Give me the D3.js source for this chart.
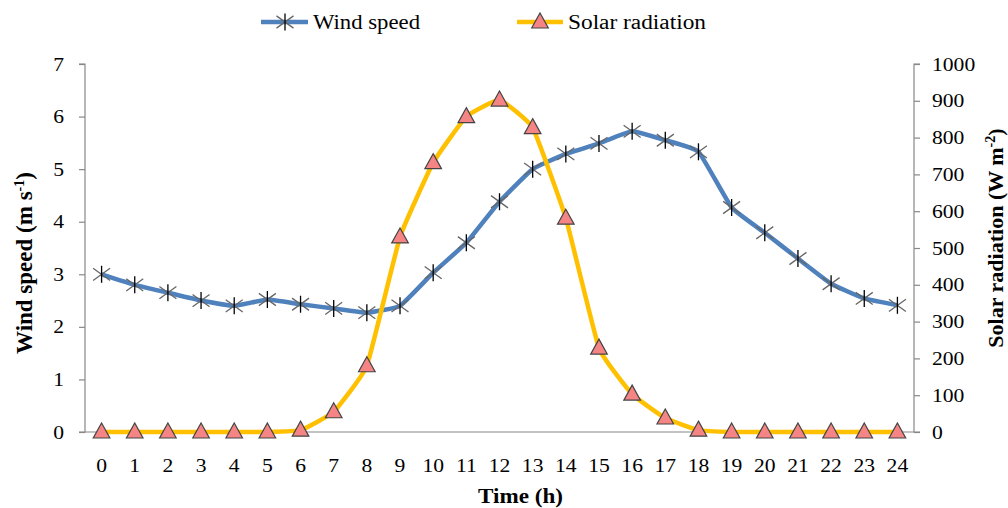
<!DOCTYPE html>
<html><head><meta charset="utf-8">
<script src="https://cdn.jsdelivr.net/npm/d3@7"></script>
<style>body{margin:0;background:#fff}svg text{font-family:"Liberation Serif","Times New Roman",serif;fill:#000}</style>
</head><body><svg id="c" width="1008" height="508"></svg>
<script>
const hours = [0,1,2,3,4,5,6,7,8,9,10,11,12,13,14,15,16,17,18,19,20,21,22,23,24];
const windSpeed = [3.0,2.8,2.65,2.5,2.4,2.52,2.43,2.35,2.27,2.4,3.03,3.6,4.38,5.0,5.29,5.49,5.72,5.55,5.33,4.27,3.79,3.3,2.82,2.54,2.41];
const solarRad = [0,0,0,0,0,0,5,55,180,530,732,857,902,827,581,228,103,38,5,0,0,0,0,0,0];
const leftTicks = [0,1,2,3,4,5,6,7];
const rightTicks = [0,100,200,300,400,500,600,700,800,900,1000];

const svg = d3.select("#c");
const L = 85, R = 914, T = 64, B = 432;
const SX = 1.2; // horizontal stretch of the reference glyphs
const x = d3.scaleBand().domain(hours).range([L, R]);
const xc = h => x(h) + x.bandwidth()/2;
const yL = d3.scaleLinear().domain([0,7]).range([B, T]);
const yR = d3.scaleLinear().domain([0,1000]).range([B, T]);
const axisCol = "#888";

const gl = svg.append("g").attr("transform",`translate(${L},0)`)
  .call(d3.axisLeft(yL).tickValues(leftTicks).tickSize(6).tickFormat(d3.format("d")));
const gr = svg.append("g").attr("transform",`translate(${R},0)`)
  .call(d3.axisRight(yR).tickValues(rightTicks).tickSize(6).tickFormat(d3.format("d")));
const gb = svg.append("g").attr("transform",`translate(0,${B})`)
  .call(d3.axisBottom(x).tickSize(0));
[gl,gr,gb].forEach(g=>{
  g.select(".domain").attr("stroke",axisCol).attr("stroke-width",1.2);
  g.selectAll(".tick line").attr("stroke",axisCol).attr("stroke-width",1.2);
  g.selectAll("text").style("font-family",'"Liberation Serif",serif').attr("fill","#000").style("font-size","18px");
});
gl.selectAll("text").attr("x",-21/SX).attr("dy","0.34em").attr("transform",`scale(${SX},1)`);
gr.selectAll("text").attr("x",18/SX).attr("dy","0.34em").attr("transform",`scale(${SX},1)`);
gb.selectAll("text").attr("y",40).attr("dy",0).attr("transform",`scale(${SX},1)`);
gl.select(".domain").attr("d",`M-6,${T}H0V${B}H-6`);
gr.select(".domain").attr("d",`M6,${T}H0V${B}H6`);
gb.select(".domain").attr("d",`M${L},0H${R}`);

const windLine = d3.line().x((d,i)=>xc(hours[i])).y(d=>yL(d)).curve(d3.curveCardinal.tension(0.65));
const solarLine = d3.line().x((d,i)=>xc(hours[i])).y(d=>yR(d)).curve(d3.curveCardinal.tension(0.65));
const blue = "#4F81BD", gold = "#FFC000";

svg.append("path").attr("d",windLine(windSpeed)).attr("fill","none").attr("stroke",blue).attr("stroke-width",4.5);
function star(g, cx, cy){
  const s = 8.5;
  g.append("path").attr("d",`M${cx-s},${cy-s*0.72}L${cx+s},${cy+s*0.72}M${cx-s},${cy+s*0.72}L${cx+s},${cy-s*0.72}`)
    .attr("stroke","#666").attr("stroke-width",1.3).attr("fill","none");
  g.append("path").attr("d",`M${cx},${cy-s}V${cy+s}`).attr("stroke","#000").attr("stroke-width",1.3);
}
const ws = svg.append("g");
windSpeed.forEach((v,i)=>star(ws, xc(hours[i]), yL(v)));

svg.append("path").attr("d",solarLine(solarRad)).attr("fill","none").attr("stroke",gold).attr("stroke-width",4.5);
function tri(g, cx, cy){
  const w = 8.3, h = 15;
  g.append("path").attr("d",`M${cx},${cy-h*0.6}L${cx+w},${cy+h*0.4}L${cx-w},${cy+h*0.4}Z`)
    .attr("fill","#F58585").attr("stroke","#444").attr("stroke-width",1.2);
}
const ts = svg.append("g");
solarRad.forEach((v,i)=>tri(ts, xc(hours[i]), yR(v)));

// legend
const lg = svg.append("g");
lg.append("line").attr("x1",261).attr("x2",308).attr("y1",22).attr("y2",22).attr("stroke",blue).attr("stroke-width",4.5);
star(lg, 285, 22);
lg.append("text").attr("x",313).attr("y",29).style("font-size","20px")
  .attr("textLength",107).attr("lengthAdjust","spacingAndGlyphs").text("Wind speed");
lg.append("line").attr("x1",517).attr("x2",563).attr("y1",22).attr("y2",22).attr("stroke",gold).attr("stroke-width",4.5);
tri(lg, 540, 22);
lg.append("text").attr("x",568).attr("y",29).style("font-size","20px")
  .attr("textLength",138).attr("lengthAdjust","spacingAndGlyphs").text("Solar radiation");

// axis titles
const lt = svg.append("text").attr("transform","translate(32,263) rotate(-90)").attr("text-anchor","middle")
  .style("font-size","23px").style("font-weight","bold");
lt.append("tspan").text("Wind speed (m s");
lt.append("tspan").attr("dy",-8).style("font-size","14px").text("-1");
lt.append("tspan").attr("dy",8).text(")");

const rt = svg.append("text").attr("transform","translate(1003,238) rotate(-90)").attr("text-anchor","middle")
  .style("font-size","22px").style("font-weight","bold");
rt.append("tspan").text("Solar radiation (W m");
rt.append("tspan").attr("dy",-8).style("font-size","14px").text("-2");
rt.append("tspan").attr("dy",8).text(")");

svg.append("text").attr("x",478).attr("y",503)
  .style("font-size","21px").style("font-weight","bold")
  .attr("textLength",85).attr("lengthAdjust","spacingAndGlyphs").text("Time (h)");
</script></body></html>
